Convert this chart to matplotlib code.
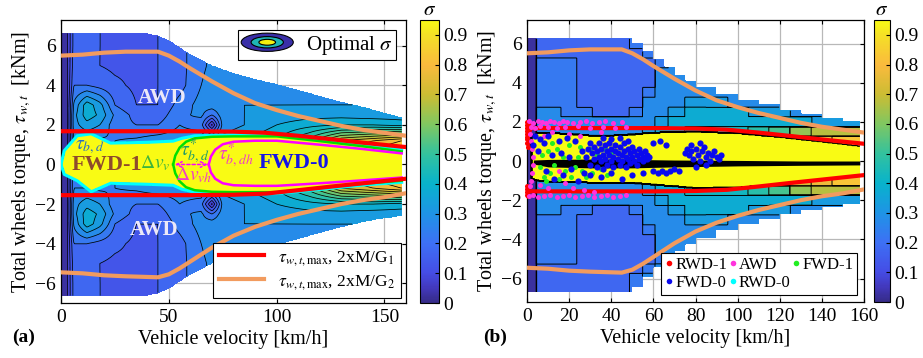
import numpy as np
import matplotlib
matplotlib.use('Agg')
import matplotlib.pyplot as plt
from matplotlib.colors import LinearSegmentedColormap, Normalize
from matplotlib.cm import ScalarMappable
from matplotlib.legend_handler import HandlerBase
from matplotlib.patches import Ellipse
from matplotlib.lines import Line2D

plt.rcParams['font.family'] = ['Liberation Serif', 'DejaVu Serif']
plt.rcParams['mathtext.fontset'] = 'stix'

# ---------------- data ----------------
# parula-like colour anchors (sigma value, rgb)
cmap_vals = [0.00, 0.05, 0.10, 0.20, 0.30, 0.40, 0.50, 0.60, 0.70, 0.80, 0.90, 0.95]
cmap_rgb = [(0.21, 0.17, 0.53), (0.26, 0.22, 0.74), (0.27, 0.30, 0.90), (0.24, 0.44, 0.96),
            (0.12, 0.58, 0.90), (0.03, 0.70, 0.80), (0.20, 0.76, 0.62), (0.50, 0.78, 0.38),
            (0.80, 0.74, 0.20), (0.98, 0.73, 0.24), (0.96, 0.88, 0.15), (0.976, 0.984, 0.08)]

# torque limit curves (kNm) vs velocity (km/h)
g1_v = [0, 20, 40, 60, 80, 95, 110, 125, 140, 160]
g1_top = [1.68, 1.68, 1.68, 1.68, 1.66, 1.60, 1.45, 1.28, 1.10, 0.88]
g1_bot = [-1.55, -1.55, -1.55, -1.55, -1.53, -1.47, -1.30, -1.12, -0.95, -0.72]

g2_v = [0, 10, 20, 30, 45, 50, 55, 60, 70, 80, 90, 100, 110, 120, 130, 140, 150, 160]
g2_top = [5.5, 5.55, 5.65, 5.7, 5.7, 5.5, 5.2, 4.85, 4.2, 3.6, 3.1, 2.75, 2.45, 2.2, 1.95, 1.75, 1.6, 1.45]
g2_bot = [-5.45, -5.5, -5.6, -5.65, -5.7, -5.55, -5.25, -4.9, -4.2, -3.6, -3.15, -2.8, -2.5, -2.25,
          -2.0, -1.8, -1.65, -1.45]

# panel (a): feasible envelope
env_v_a = [0, 20, 40, 45, 50, 55, 60, 70, 80, 90, 100, 110, 120, 130, 140, 150, 158]
env_top_a = [6.65, 6.65, 6.6, 6.5, 6.25, 5.9, 5.55, 5.0, 4.6, 4.3, 4.05, 3.75, 3.45, 3.15, 2.9, 2.6, 2.35]
env_bot_a = [-6.65, -6.65, -6.6, -6.5, -6.25, -5.9, -5.55, -5.0, -4.6, -4.3, -4.05, -3.75, -3.45,
             -3.15, -2.9, -2.7, -2.6]

# panel (a): sigma table (rows |torque|, columns velocity)
v_cols_a = [0, 3, 6, 12, 18, 25, 35, 45, 55, 65, 70, 75, 85, 100, 115, 130, 145, 158]
t_rows_a = [0, 1.2, 2.0, 2.5, 3.0, 4.0, 5.0, 6.0, 7.0]
sigma_a = [
    [0.02, 0.05, 0.25, 0.25, 0.25, 0.25, 0.25, 0.27, 0.28, 0.30, 0.30, 0.35, 0.40, 0.45, 0.55, 0.80, 0.90, 0.95],
    [0.02, 0.05, 0.25, 0.25, 0.24, 0.25, 0.26, 0.28, 0.28, 0.30, 0.30, 0.32, 0.35, 0.40, 0.52, 0.70, 0.75, 0.80],
    [0.02, 0.05, 0.28, 0.33, 0.30, 0.22, 0.20, 0.20, 0.25, 0.22, 0.04, 0.27, 0.30, 0.35, 0.38, 0.40, 0.40, 0.38],
    [0.02, 0.05, 0.28, 0.38, 0.34, 0.24, 0.18, 0.17, 0.24, 0.26, 0.20, 0.28, 0.30, 0.32, 0.33, 0.33, 0.32, 0.32],
    [0.02, 0.05, 0.26, 0.38, 0.32, 0.20, 0.15, 0.15, 0.22, 0.27, 0.28, 0.29, 0.30, 0.30, 0.30, 0.30, 0.30, 0.30],
    [0.02, 0.05, 0.20, 0.20, 0.18, 0.16, 0.14, 0.15, 0.18, 0.25, 0.27, 0.28, 0.28, 0.28, 0.29, 0.29, 0.29, 0.29],
    [0.02, 0.05, 0.18, 0.16, 0.15, 0.14, 0.14, 0.15, 0.18, 0.24, 0.26, 0.27, 0.28, 0.28, 0.28, 0.28, 0.28, 0.28],
    [0.02, 0.05, 0.17, 0.16, 0.15, 0.15, 0.14, 0.15, 0.18, 0.24, 0.26, 0.27, 0.28, 0.28, 0.28, 0.28, 0.28, 0.28],
    [0.02, 0.05, 0.17, 0.16, 0.15, 0.15, 0.14, 0.15, 0.18, 0.24, 0.26, 0.27, 0.28, 0.28, 0.28, 0.28, 0.28, 0.28],
]

# panel (a): optimal (yellow) region edge = tau_b,d boundary (cyan)
yel_v = [0, 1.5, 7.5, 14, 23, 40, 52, 56, 62, 80, 100, 120, 140, 158]
yel_top = [0, 0.7, 1.45, 1.55, 1.08, 1.12, 1.18, 1.32, 1.45, 1.5, 1.5, 1.26, 1.0, 0.74]
yel_bot = [0, -0.5, -0.82, -1.38, -0.95, -1.0, -1.05, -1.25, -1.4, -1.47, -1.47, -1.26, -1.04, -0.9]

# tau*_b,d boundary (green)
grn_v = [52, 53, 55, 58, 62, 70, 80, 100, 120, 140, 158]
grn_top = [0, 0.45, 0.85, 1.15, 1.32, 1.4, 1.42, 1.42, 1.18, 0.92, 0.66]
grn_bot = [0, -0.45, -0.85, -1.15, -1.3, -1.38, -1.4, -1.4, -1.18, -0.98, -0.82]

# tau*_b,dh boundary (magenta)
mag_v = [68.5, 69.5, 71.5, 75, 80, 90, 100, 120, 140, 158]
mag_top = [0, 0.4, 0.75, 1.02, 1.15, 1.2, 1.2, 1.0, 0.78, 0.56]
mag_bot = [0, -0.4, -0.72, -0.95, -1.05, -1.08, -1.08, -0.95, -0.8, -0.66]

# panel (b): envelope (stepped)
env_v_b = [0, 45, 50, 55, 60, 65, 70, 75, 80, 90, 100, 110, 120, 130, 140, 150, 158]
env_top_b = [6.25, 6.25, 6.0, 5.6, 5.2, 4.8, 4.4, 4.1, 3.8, 3.4, 3.1, 2.9, 2.6, 2.4, 2.2, 2.05, 1.95]
env_bot_b = [-6.7, -6.7, -6.4, -5.9, -5.4, -5.0, -4.6, -4.25, -3.95, -3.5, -3.2, -2.95, -2.7, -2.5,
             -2.3, -2.15, -2.05]

v_cols_b = [0, 3, 6, 12, 20, 27, 35, 45, 52, 58, 64, 70, 80, 90, 100, 110, 120, 130, 140, 150, 158]
t_rows_b = [1.0, 1.5, 2.0, 2.5, 3.0, 3.5, 4.0, 4.5, 5.0, 5.5, 6.0, 6.5, 7.0]
sigma_b = [
    [0.02, 0.02, 0.30, 0.30, 0.30, 0.30, 0.30, 0.30, 0.30, 0.35, 0.40, 0.45, 0.50, 0.55, 0.60, 0.65, 0.70, 0.75, 0.80, 0.85, 0.85],
    [0.02, 0.02, 0.30, 0.30, 0.30, 0.30, 0.30, 0.30, 0.30, 0.32, 0.38, 0.40, 0.42, 0.42, 0.45, 0.50, 0.55, 0.65, 0.70, 0.70, 0.70],
    [0.02, 0.02, 0.30, 0.30, 0.30, 0.30, 0.30, 0.30, 0.30, 0.30, 0.35, 0.40, 0.40, 0.40, 0.40, 0.40, 0.38, 0.40, 0.35, 0.35, 0.35],
    [0.02, 0.02, 0.30, 0.30, 0.24, 0.24, 0.20, 0.20, 0.24, 0.30, 0.30, 0.35, 0.40, 0.40, 0.38, 0.35, 0.32, 0.30, 0.30, 0.30, 0.30],
    [0.02, 0.02, 0.24, 0.24, 0.24, 0.17, 0.17, 0.17, 0.17, 0.30, 0.30, 0.30, 0.35, 0.32, 0.30, 0.30, 0.30, 0.30, 0.30, 0.30, 0.30],
    [0.02, 0.02, 0.24, 0.24, 0.24, 0.17, 0.17, 0.17, 0.17, 0.24, 0.30, 0.30, 0.30, 0.30, 0.30, 0.30, 0.30, 0.30, 0.30, 0.30, 0.30],
    [0.02, 0.02, 0.24, 0.24, 0.24, 0.17, 0.17, 0.17, 0.17, 0.17, 0.30, 0.30, 0.30, 0.30, 0.30, 0.30, 0.30, 0.30, 0.30, 0.30, 0.30],
    [0.02, 0.02, 0.24, 0.24, 0.24, 0.17, 0.17, 0.17, 0.17, 0.17, 0.30, 0.30, 0.30, 0.30, 0.30, 0.30, 0.30, 0.30, 0.30, 0.30, 0.30],
    [0.02, 0.02, 0.24, 0.24, 0.24, 0.17, 0.17, 0.17, 0.17, 0.17, 0.24, 0.30, 0.30, 0.30, 0.30, 0.30, 0.30, 0.30, 0.30, 0.30, 0.30],
    [0.02, 0.02, 0.17, 0.17, 0.17, 0.17, 0.17, 0.17, 0.17, 0.24, 0.30, 0.30, 0.30, 0.30, 0.30, 0.30, 0.30, 0.30, 0.30, 0.30, 0.30],
    [0.02, 0.02, 0.17, 0.17, 0.17, 0.17, 0.17, 0.17, 0.24, 0.30, 0.30, 0.30, 0.30, 0.30, 0.30, 0.30, 0.30, 0.30, 0.30, 0.30, 0.30],
    [0.02, 0.02, 0.17, 0.17, 0.17, 0.17, 0.17, 0.17, 0.24, 0.30, 0.30, 0.30, 0.30, 0.30, 0.30, 0.30, 0.30, 0.30, 0.30, 0.30, 0.30],
    [0.02, 0.02, 0.17, 0.17, 0.17, 0.17, 0.17, 0.17, 0.24, 0.30, 0.30, 0.30, 0.30, 0.30, 0.30, 0.30, 0.30, 0.30, 0.30, 0.30, 0.30],
]

# panel (b): yellow region and dark band near zero torque
yb_v = [2, 5, 10, 20, 30, 40, 50, 60, 80, 100, 120, 140, 158]
yb_top = [1.2, 1.45, 1.42, 1.38, 1.3, 1.3, 1.35, 1.45, 1.5, 1.42, 1.22, 0.98, 0.75]
yb_bot = [-0.9, -1.0, -1.05, -1.08, -1.1, -1.1, -1.12, -1.2, -1.38, -1.35, -1.2, -0.98, -0.75]
band_v = [3, 10, 30, 50, 70, 100, 130, 158]
band_hi = [0.05, 0.08, 0.1, 0.08, 0.05, 0.03, 0.0, 0.0]
band_lo = [-0.15, -0.3, -0.35, -0.35, -0.3, -0.25, -0.22, -0.2]

# panel (b): operating points per mode
rwd1_v = [0, 0, 0, 0, 0, 0, 0, 0, 0, 0, 0, 0, 0.5, 0.5, 1, 0.5, 1, 0.5]
rwd1_t = [2.0, 1.85, 1.7, 1.55, 1.4, 1.25, 1.1, 0.9, -1.3, -1.45, -1.6, -1.75, 1.95, -1.8, 1.6, 0.7, 1.8, -1.55]

awd_v = [1, 3, 5, 7, 9, 11, 13, 15, 17, 19, 22, 25, 28, 31, 34, 37, 41, 45,
         2, 4, 6, 10, 14, 18, 24, 30, 36, 42, 47,
         1.5, 2, 2.5, 3, 3, 2.5, 2, 1.5,
         8, 12, 20, 25, 35, 15, 18, 6, 10, 22, 27, 32,
         1, 3, 5, 8, 11, 14, 17, 20, 23, 26, 29, 32, 35, 38, 41, 44, 47]
awd_t = [2.05, 1.95, 2.05, 2.0, 1.95, 2.05, 2.0, 1.95, 2.05, 2.0, 1.95, 2.0, 2.05, 1.95, 2.0, 2.05, 1.95, 2.0,
         1.75, 1.7, 1.8, 1.75, 1.7, 1.75, 1.8, 1.7, 1.75, 1.7, 1.75,
         1.4, 1.0, 0.6, 0.2, -0.2, -0.6, -1.0, -1.3,
         1.3, 1.5, 1.4, 1.3, 1.5, -0.5, -1.1, -1.2, -1.4, -1.4, -1.5, -1.6,
         -1.8, -1.75, -1.85, -1.8, -1.75, -1.85, -1.8, -1.75, -1.85, -1.8, -1.75, -1.85, -1.8, -1.75, -1.85,
         -1.8, -1.75]

fwd1_v = [6, 7, 8, 9, 10, 11, 12, 13, 14, 15, 17, 18, 20, 21, 23, 24, 25, 26, 28, 30, 31, 33, 35, 37, 38, 40]
fwd1_t = [-0.3, 0.3, -0.8, -1.0, 0.5, -0.6, 0.9, -0.2, 0.6, -0.9, 0.2, -0.5, 0.8, -0.8, -0.3, 0.2, 0.7,
          -0.5, -0.8, 0.6, -0.6, 0.3, -0.4, 0.6, -0.7, 0.4]

fwd0_v = [3, 4, 5, 6, 8, 9, 10, 12, 13, 15, 16, 17, 19, 20, 21, 23, 24, 26, 27,
          28, 29, 30, 30, 31, 32, 32, 33, 33, 34, 34, 35, 35, 36, 36, 37, 37, 38, 38, 39, 39,
          40, 40, 41, 41, 42, 42, 43, 43, 44, 44, 45, 45, 46, 46, 47, 47, 48, 48, 49, 49,
          50, 50, 51, 51, 52, 52, 53, 53, 54, 55, 55, 56, 57, 57, 58,
          36, 40, 44, 48, 30, 35, 40, 45, 50, 55,
          60, 63, 66, 60, 62, 64, 66, 68, 70, 72,
          75, 76, 77, 78, 79, 80, 81, 82, 83, 84, 85, 86, 87, 88, 89, 90, 91, 92, 80, 85, 82, 78]
fwd0_t = [0.8, 1.3, 0.5, 1.1, 0.9, -0.5, 1.3, 0.3, -0.9, 1.0, 0.4, -0.7, 1.2, 0.2, -0.4, 1.0, -1.0, 0.5, -0.6,
          0.2, 0.6, -0.2, 0.9, 0.4, 0.1, 0.7, -0.3, 0.5, 0.2, 0.9, 0.0, 0.6, 0.3, -0.4, 0.8, 0.1, 0.5, -0.2, 0.3, 0.9,
          0.0, 0.6, 0.2, -0.3, 0.5, 0.8, 0.1, 0.4, -0.2, 0.7, 0.3, 0.0, 0.5, 0.9, 0.2, -0.3, 0.6, 0.1, 0.4, -0.1,
          0.7, 0.2, 0.0, 0.5, 0.3, -0.2, 0.6, 0.1, 0.4, 0.2, 0.0, 0.5, 0.3, 0.1, 0.2,
          1.2, 1.1, 1.2, 1.0, -0.7, -0.8, -0.6, -0.9, -0.7, -0.6,
          0.9, 1.0, 0.8, -0.5, -0.6, -0.5, -0.6, -0.5, -0.4, -0.5,
          0.4, 0.6, 0.3, 0.5, 0.1, 0.6, 0.3, 0.0, 0.5, 0.7, 0.2, 0.4, 0.0, 0.3, 0.5, 0.2, 0.1, 0.3, -0.3, -0.2, 0.9, 0.8]

cbar_ticks = [0, 0.1, 0.2, 0.3, 0.4, 0.5, 0.6, 0.7, 0.8, 0.9]
cbar_labels = ['0', '0.1', '0.2', '0.3', '0.4', '0.5', '0.6', '0.7', '0.8', '0.9']

# ---------------- helpers ----------------
parula = LinearSegmentedColormap.from_list(
    'parula_like', [(v / 0.95, c) for v, c in zip(cmap_vals, cmap_rgb)])
levels = list(np.arange(0, 0.951, 0.05)) + [1.0]

vq = np.linspace(0, 158, 480)
tq = np.linspace(-7.2, 7.2, 480)
V, T = np.meshgrid(vq, tq)


def bilinear_table(v_cols, t_rows, table):
    rows = np.array([np.interp(vq, v_cols, r) for r in table])
    out = np.empty((len(tq), len(vq)))
    for j in range(len(vq)):
        out[:, j] = np.interp(np.abs(tq), t_rows, rows[:, j])
    return out


def nearest_table(v_cols, t_rows, table):
    tab = np.array(table)
    ci = np.abs(vq[None, :] - np.array(v_cols)[:, None]).argmin(axis=0)
    ri = np.abs(np.abs(tq)[None, :] - np.array(t_rows)[:, None]).argmin(axis=0)
    return tab[ri][:, ci]


def step(xp, fp):
    idx = np.clip(np.searchsorted(xp, vq, side='right') - 1, 0, len(xp) - 1)
    return np.array(fp)[idx]


class EllipseHandler(HandlerBase):
    def create_artists(self, legend, orig_handle, xdescent, ydescent, width, height, fontsize, trans):
        cx = 0.5 * width - xdescent
        cy = 0.5 * height - ydescent
        arts = []
        for sc, col in [(1.0, '#3A2FA8'), (0.62, '#1FB5B5'), (0.32, '#F5F00F')]:
            arts.append(Ellipse((cx, cy), width * sc, height * 1.25 * sc, facecolor=col,
                                edgecolor='black', lw=0.8, transform=trans))
        return arts


class OptimalSigma:
    pass


def style_axes(ax, xticks):
    ax.set_xlim(0, 160)
    ax.set_xticks(xticks)
    ax.set_yticks([-6, -4, -2, 0, 2, 4, 6])
    ax.set_axisbelow(True)
    ax.grid(True, color='0.72', lw=0.9)
    ax.tick_params(direction='in', length=3, top=True, right=True, labelsize=14, pad=4)
    for s in ax.spines.values():
        s.set_linewidth(0.9)
    ax.set_xlabel('Vehicle velocity [km/h]', fontsize=14.5, labelpad=3)
    ax.set_ylabel(r'Total wheels torque, $\tau_{w,t}$  [kNm]', fontsize=14.5, labelpad=1)


def add_cbar(cax):
    cb = fig.colorbar(ScalarMappable(norm=Normalize(vmin=0, vmax=0.95), cmap=parula), cax=cax)
    cb.set_ticks(cbar_ticks, labels=cbar_labels)
    cb.outline.set_linewidth(0.8)
    cax.tick_params(direction='in', length=3, labelsize=14, pad=3)
    cax.set_title(r'$\sigma$', fontsize=15, pad=2)


fig = plt.figure(figsize=(9.23, 3.58), dpi=100)
ax_a = fig.add_axes([0.0661, 0.1536, 0.3738, 0.7905])
cax_a = fig.add_axes([0.4550, 0.1536, 0.0206, 0.7905])
ax_b = fig.add_axes([0.5710, 0.1564, 0.3651, 0.7877])
cax_b = fig.add_axes([0.9469, 0.1564, 0.0173, 0.7877])

# ---------------- panel (a) ----------------
Za = bilinear_table(v_cols_a, t_rows_a, sigma_a)
inside_y = (T <= np.interp(vq, yel_v, yel_top)) & (T >= np.interp(vq, yel_v, yel_bot))
Za[inside_y] = 0.97
outside = (T > np.interp(vq, env_v_a, env_top_a)) | (T < np.interp(vq, env_v_a, env_bot_a))
Za = np.ma.masked_where(outside, Za)
ax_a.contourf(V, T, Za, levels=levels, cmap=parula, norm=Normalize(vmin=0, vmax=0.95))
ax_a.contour(V, T, Za, levels=levels[1:-2], colors='black', linewidths=0.55)

ax_a.plot(g2_v, g2_top, color='#F29B5E', lw=3, zorder=4)
ax_a.plot(g2_v, g2_bot, color='#F29B5E', lw=3, zorder=4)
ax_a.plot(g1_v, g1_top, color='red', lw=3, zorder=4)
ax_a.plot(g1_v, g1_bot, color='red', lw=3, zorder=4)
ax_a.plot(yel_v, yel_top, color='cyan', lw=2.2, zorder=3)
ax_a.plot(yel_v, yel_bot, color='cyan', lw=2.2, zorder=3)
ax_a.plot(grn_v, grn_top, color='#00E000', lw=1.8, zorder=3)
ax_a.plot(grn_v, grn_bot, color='#00E000', lw=1.8, zorder=3)
ax_a.plot(mag_v, mag_top, color='#FF00FF', lw=1.8, zorder=3)
ax_a.plot(mag_v, mag_bot, color='#FF00FF', lw=1.8, zorder=3)
ax_a.annotate('', xy=(52.8, 0), xytext=(68, 0),
              arrowprops=dict(arrowstyle='<->', color='#FF00FF', linestyle=(0, (2, 1.5)), lw=1.1,
                              shrinkA=0, shrinkB=0), zorder=5)

ax_a.text(47, 3.35, 'AWD', color='#ECE8F8', fontsize=15, fontweight='bold', ha='center', va='center', zorder=5)
ax_a.text(43, -3.3, 'AWD', color='#ECE8F8', fontsize=15, fontweight='bold', ha='center', va='center', zorder=5)
ax_a.text(21.5, -0.05, 'FWD-1', color='#8E4A2C', fontsize=16, fontweight='bold', ha='center', va='center', zorder=5)
ax_a.text(108, 0.05, 'FWD-0', color='#1414E6', fontsize=16, fontweight='bold', ha='center', va='center', zorder=5)
ax_a.text(13.5, 0.9, r'$\tau_{b,d}$', color='#2A70C0', fontsize=14, ha='center', va='center', zorder=5)
ax_a.text(43.5, 0.05, r'$\Delta v_v$', color='#3CB43C', fontsize=14, ha='center', va='center', zorder=5)
ax_a.text(62, 0.68, r'$\tau^{*}_{b,d}$', color='#1E9A6A', fontsize=14, ha='center', va='center', zorder=5)
ax_a.text(61.5, -0.55, r'$\Delta v_{vh}$', color='#F03CC8', fontsize=14, ha='center', va='center', zorder=5)
ax_a.text(81, 0.5, r'$\tau^{*}_{b,dh}$', color='#F03CC8', fontsize=14, ha='center', va='center', zorder=5)

style_axes(ax_a, [0, 50, 100, 150])
ax_a.set_ylim(-7.0, 7.3)

leg1 = ax_a.legend([OptimalSigma()], [r'Optimal $\sigma$'], handler_map={OptimalSigma: EllipseHandler()},
                   loc='upper right', fontsize=15, fancybox=False, edgecolor='black', framealpha=1,
                   handlelength=2.5, borderpad=0.15, borderaxespad=0.5, handletextpad=0.6)
leg1.get_frame().set_linewidth(0.8)
ax_a.add_artist(leg1)
h_g1 = Line2D([], [], color='red', lw=3)
h_g2 = Line2D([], [], color='#F29B5E', lw=3)
leg2 = ax_a.legend([h_g1, h_g2], [r'$\tau_{w,t,\mathrm{max}}$, 2xM/G$_1$', r'$\tau_{w,t,\mathrm{max}}$, 2xM/G$_2$'],
                   loc='lower right', fontsize=12.5, fancybox=False, edgecolor='black', framealpha=1,
                   handlelength=2.6, borderpad=0.35, labelspacing=0.3, borderaxespad=0.3)
leg2.get_frame().set_linewidth(0.8)

# ---------------- panel (b) ----------------
Zb = nearest_table(v_cols_b, t_rows_b, sigma_b)
inside_yb = (V >= yb_v[0]) & (T <= np.interp(vq, yb_v, yb_top)) & (T >= np.interp(vq, yb_v, yb_bot))
Zb[inside_yb] = 0.97
outside_b = (T > step(env_v_b, env_top_b)) | (T < step(env_v_b, env_bot_b))
Zb = np.ma.masked_where(outside_b, Zb)
ax_b.contourf(V, T, Zb, levels=levels, cmap=parula, norm=Normalize(vmin=0, vmax=0.95))
ax_b.contour(V, T, Zb, levels=levels[1:-2], colors='black', linewidths=0.7)
ax_b.fill_between(band_v, band_lo, band_hi, color='black', lw=0, zorder=2)

ax_b.plot(g2_v, g2_top, color='#F29B5E', lw=3, zorder=3)
ax_b.plot(g2_v, g2_bot, color='#F29B5E', lw=3, zorder=3)
ax_b.plot(g1_v, g1_top, color='red', lw=3, zorder=3)
ax_b.plot(g1_v, g1_bot, color='red', lw=3, zorder=3)

ax_b.scatter(rwd1_v, rwd1_t, s=13, color='red', lw=0, zorder=5, clip_on=False)
ax_b.scatter(awd_v, awd_t, s=13, color='#FF33DD', lw=0, zorder=5)
ax_b.scatter(fwd1_v, fwd1_t, s=13, color='#22EE22', lw=0, zorder=5)
ax_b.scatter(fwd0_v, fwd0_t, s=20, color='#0A0AEE', lw=0, zorder=6)

style_axes(ax_b, [0, 20, 40, 60, 80, 100, 120, 140, 160])
ax_b.set_ylim(-7.2, 7.2)

mk = dict(marker='o', ls='none', markersize=4, markeredgewidth=0)
handles = [Line2D([], [], color='red', **mk), Line2D([], [], color='#0A0AEE', **mk),
           Line2D([], [], color='#FF33DD', **mk), Line2D([], [], color='cyan', **mk),
           Line2D([], [], color='#22EE22', **mk)]
labels = ['RWD-1', 'FWD-0', 'AWD', 'RWD-0', 'FWD-1']
leg3 = ax_b.legend(handles, labels, ncol=3, loc='lower right', fontsize=12, fancybox=False,
                   edgecolor='black', framealpha=1, handlelength=0.5, handletextpad=0.1,
                   columnspacing=0.1, labelspacing=0.15, borderpad=0.25, borderaxespad=0.4)
leg3.get_frame().set_linewidth(0.8)

add_cbar(cax_a)
add_cbar(cax_b)

fig.text(0.013, 0.045, '(a)', fontsize=14, fontweight='bold')
fig.text(0.523, 0.045, '(b)', fontsize=14, fontweight='bold')

fig.savefig('out.png', dpi=100)
